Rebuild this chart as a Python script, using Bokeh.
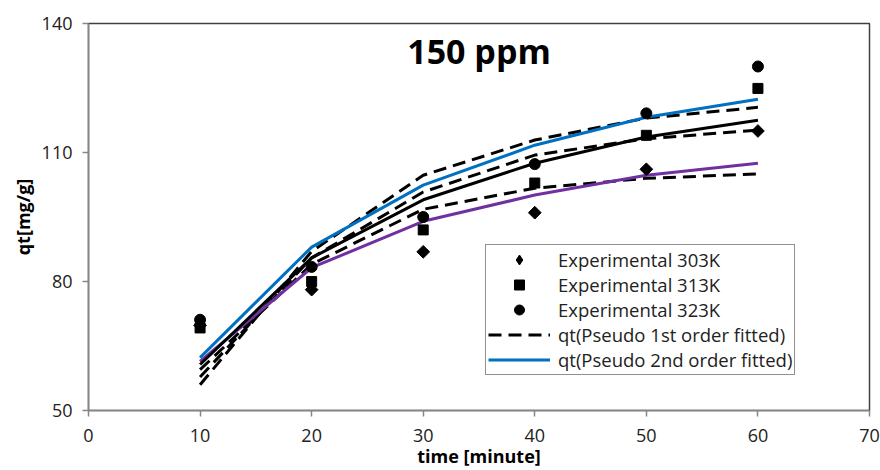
import math
from bokeh.plotting import figure
from bokeh.models import Range1d, FixedTicker, Legend, LegendItem
from bokeh.core.properties import value
from bokeh.embed import file_html
from bokeh.resources import INLINE

# ---- data ----
time_min = [10, 20, 30, 40, 50, 60]
exp_303 = [69.8, 78.1, 86.9, 96.0, 106.1, 115.0]
exp_313 = [69.2, 80.0, 92.0, 102.9, 114.0, 124.9]
exp_323 = [71.1, 83.4, 95.0, 107.3, 119.1, 130.0]
pfo_303 = [59.5, 84.0, 96.8, 101.7, 104.0, 105.0]
pfo_313 = [57.8, 85.5, 100.8, 109.4, 113.2, 115.2]
pfo_323 = [56.0, 87.0, 104.7, 112.9, 118.0, 120.5]
pso_303 = [61.4, 83.2, 94.0, 100.1, 104.7, 107.5]
pso_313 = [60.7, 85.5, 99.0, 107.5, 113.6, 117.5]
pso_323 = [62.3, 88.0, 102.4, 111.7, 118.2, 122.4]
x_ticks = [0, 10, 20, 30, 40, 50, 60, 70]
y_ticks = [50, 80, 110, 140]
title_text = "150 ppm"

FONT = "Open Sans"

p = figure(width=880, height=470, output_backend="svg", toolbar_location=None,
           x_range=Range1d(0, 70), y_range=Range1d(50, 140),
           min_border_left=88, min_border_right=11, min_border_top=23, min_border_bottom=59)
p.grid.visible = False
p.outline_line_color = "#404040"
p.outline_line_width = 1.5
p.background_fill_color = "white"
p.border_fill_color = "white"

for ax in (p.xaxis[0], p.yaxis[0]):
    ax.axis_line_color = "#868686"
    ax.axis_line_width = 1.5
    ax.major_tick_line_color = "#868686"
    ax.major_tick_line_width = 1.5
    ax.major_tick_in = 0
    ax.major_tick_out = 6
    ax.minor_tick_line_color = None
    ax.major_label_text_font = FONT
    ax.major_label_text_font_size = "18px"
    ax.major_label_text_color = "#222222"
    ax.axis_label_text_font = FONT
    ax.axis_label_text_font_style = "bold"
    ax.axis_label_text_font_size = "18px"
    ax.axis_label_text_color = "black"

p.xaxis.ticker = FixedTicker(ticks=x_ticks)
p.yaxis.ticker = FixedTicker(ticks=y_ticks)
p.xaxis.axis_label = "time [minute]"
p.yaxis.axis_label = "qt[mg/g]"
p.xaxis.major_label_standoff = 12
p.xaxis.axis_label_standoff = -1
p.yaxis.major_label_standoff = 10
p.yaxis.axis_label_standoff = 4

dash = "13 7"
# pseudo 1st order (dashed)
d1 = p.line(time_min, pfo_303, line_color="black", line_width=3, line_dash=dash)
d2 = p.line(time_min, pfo_313, line_color="black", line_width=3, line_dash=dash)
d3 = p.line(time_min, pfo_323, line_color="black", line_width=3, line_dash=dash)
# pseudo 2nd order
s1 = p.line(time_min, pso_303, line_color="#7030A0", line_width=3)
s2 = p.line(time_min, pso_313, line_color="black", line_width=3)
s3 = p.line(time_min, pso_323, line_color="#0070C0", line_width=3)

m1 = p.scatter(time_min, exp_303, marker="square", angle=math.pi / 4, size=9, color="black")
# legend stand-in for the diamond marker (zero size on the plot)
m1_key = p.scatter(time_min, exp_303, marker="diamond", size=0, fill_color="black", line_color="black")
m2 = p.scatter(time_min, exp_313, marker="square", size=10, color="black")
m3 = p.scatter(time_min, exp_323, marker="circle", size=11, color="black")

p.text(x=[35], y=[133.5], text=[title_text], text_font=value(FONT), text_font_style="bold",
       text_font_size="34px", text_align="center", text_baseline="middle", text_color="black")

legend = Legend(items=[
    LegendItem(label="Experimental 303K", renderers=[m1_key]),
    LegendItem(label="Experimental 313K", renderers=[m2]),
    LegendItem(label="Experimental 323K", renderers=[m3]),
    LegendItem(label="qt(Pseudo 1st order fitted)", renderers=[d1]),
    LegendItem(label="qt(Pseudo 2nd order fitted)", renderers=[s3]),
], location=(397, 35))
legend.border_line_color = "#222222"
legend.border_line_width = 1.5
legend.background_fill_alpha = 1
legend.padding = 2
legend.margin = 0
legend.spacing = 0
legend.glyph_width = 62
legend.glyph_height = 25
legend.label_height = 25
legend.label_standoff = 8
legend.label_text_font = FONT
legend.label_text_font_size = "18.5px"
legend.label_text_color = "#222222"
legend.label_text_baseline = "middle"
p.add_layout(legend)

open("out.html", "w").write(file_html(p, INLINE))
